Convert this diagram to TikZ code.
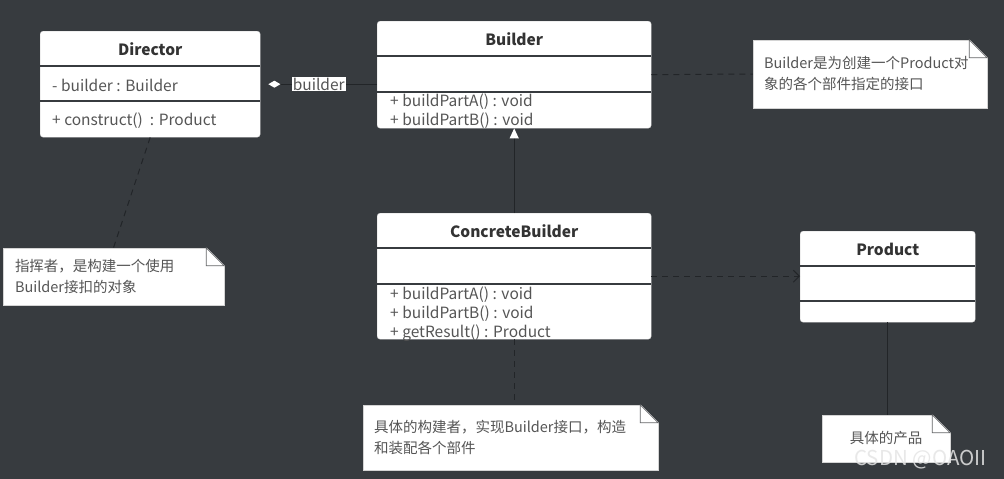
\documentclass[tikz,border=0pt]{standalone}
\usepackage{fontspec}
\setmainfont{Noto Sans CJK SC}
\usepackage{tikz}
\usetikzlibrary{arrows.meta,positioning,calc}

\definecolor{canvas}{HTML}{373B3F}
\definecolor{linkline}{HTML}{222528}
\definecolor{boxedge}{HTML}{D4D4D4}
\definecolor{titletext}{HTML}{333333}
\definecolor{membertext}{HTML}{555555}

\begin{document}
\begin{tikzpicture}[
  x=1pt, y=-1pt,
  classbox/.style={draw=boxedge, fill=white, rounded corners=3pt, anchor=north west, inner sep=0pt},
  classname/.style={font=\bfseries\fontsize{15.5}{17}\selectfont, text=titletext},
  member/.style={anchor=west, inner sep=0pt, font=\fontsize{15.5}{17}\selectfont, text=membertext},
  divider/.style={draw=canvas, line width=2pt},
  notebox/.style={fill=white, draw=boxedge, inner sep=0pt, align=left, font=\fontsize{14.5}{21}\selectfont, text=membertext},
  fold/.style={draw=linkline!70, fill=white, line width=0.8pt},
  link/.style={draw=linkline, line width=1pt},
  dlink/.style={link, dash pattern=on 6pt off 5pt},
  linklabel/.style={fill=white, inner sep=1pt, font=\fontsize{15.5}{17}\selectfont, text=membertext},
]

\useasboundingbox (0,0) rectangle (1004,479);
\fill[canvas] (0,0) rectangle (1004,479);

% classes
\node[classbox, minimum width=220pt, minimum height=106pt] (director) at (40,31) {};
\draw[divider] ($(director.north west)+(0,35)$) -- ($(director.north east)+(0,35)$);
\draw[divider] ($(director.north west)+(0,70)$) -- ($(director.north east)+(0,70)$);
\node[classname] (director-name) at ($(director.north)+(0,18)$) {Director};
\node[member] (director-attr) at ($(director.north west)+(12,54)$) {- builder : Builder};
\node[member] (director-op) at ($(director.north west)+(12,90)$) {+ construct()\ \ : Product};

\node[classbox, minimum width=274pt, minimum height=107pt] (builder) at (377,21) {};
\draw[divider] ($(builder.north west)+(0,35)$) -- ($(builder.north east)+(0,35)$);
\draw[divider] ($(builder.north west)+(0,71)$) -- ($(builder.north east)+(0,71)$);
\node[classname] (builder-name) at ($(builder.north)+(0,18)$) {Builder};
\node[member] (builder-opa) at ($(builder.north west)+(13,81)$) {+ buildPartA() : void};
\node[member] (builder-opb) at ($(builder.north west)+(13,100)$) {+ buildPartB() : void};

\node[classbox, minimum width=274pt, minimum height=126pt] (concrete) at (377,213) {};
\draw[divider] ($(concrete.north west)+(0,35)$) -- ($(concrete.north east)+(0,35)$);
\draw[divider] ($(concrete.north west)+(0,71)$) -- ($(concrete.north east)+(0,71)$);
\node[classname] (concrete-name) at ($(concrete.north)+(0,18)$) {ConcreteBuilder};
\node[member] (concrete-opa) at ($(concrete.north west)+(13,82)$) {+ buildPartA() : void};
\node[member] (concrete-opb) at ($(concrete.north west)+(13,101)$) {+ buildPartB() : void};
\node[member] (concrete-opc) at ($(concrete.north west)+(13,120)$) {+ getResult() : Product};

\node[classbox, minimum width=175pt, minimum height=91pt] (product) at (800,231) {};
\draw[divider] ($(product.north west)+(0,35)$) -- ($(product.north east)+(0,35)$);
\draw[divider] ($(product.north west)+(0,70)$) -- ($(product.north east)+(0,70)$);
\node[classname] (product-name) at ($(product.north)+(0,18)$) {Product};

% notes
\node[notebox, minimum width=234pt, minimum height=68pt, text width=212pt] (builder-note) at (870,74)
  {Builder是为创建一个Product对\\象的各个部件指定的接口};
\node[notebox, minimum width=221pt, minimum height=57pt, text width=197pt] (director-note) at (113.5,276.5)
  {指挥者，是构建一个使用\\Builder接扣的对象};
\node[notebox, minimum width=295pt, minimum height=65pt, text width=273pt] (concrete-note) at (510.5,437.5)
  {具体的构建者，实现Builder接口，构造\\和装配各个部件};
\node[notebox, minimum width=128pt, minimum height=47pt, align=center] (product-note) at (886,438.5)
  {具体的产品};

\foreach \n in {builder-note,director-note,concrete-note,product-note} {
  \fill[canvas] ($(\n.north east)+(-18,-1)$) -- ($(\n.north east)+(1,-1)$) -- ($(\n.north east)+(1,18)$) -- cycle;
  \draw[fold] ($(\n.north east)+(-18,0)$) -- ($(\n.north east)+(0,18)$) -- ($(\n.north east)+(-18,18)$) -- cycle;
}

% connectors
\draw[link, {Diamond[white, length=12pt, width=7pt]}-, shorten <=8pt] (director.east) -- (director.east -| builder.west)
  node[linklabel, pos=0.5] (agg-label) {builder};
\draw[link, -{Triangle[white, length=10pt, width=9pt]}] (concrete.north) -- (builder.south);
\draw[dlink, -{Straight Barb[length=6pt, width=12pt]}] (concrete.east) -- (concrete.east -| product.west);
\draw[dlink] (director.south) -- (director-note.north);
\draw[dlink] (builder.east) -- (builder-note.west);
\draw[dlink] (concrete.south) -- (concrete.south |- concrete-note.north);
\draw[link] (product.south) -- (product.south |- product-note.north);

\node[anchor=east, font=\fontsize{20.5}{22}\selectfont, text=white!80!gray, opacity=0.85] (watermark) at (990,460) {CSDN @OAOII};

\end{tikzpicture}
\end{document}
